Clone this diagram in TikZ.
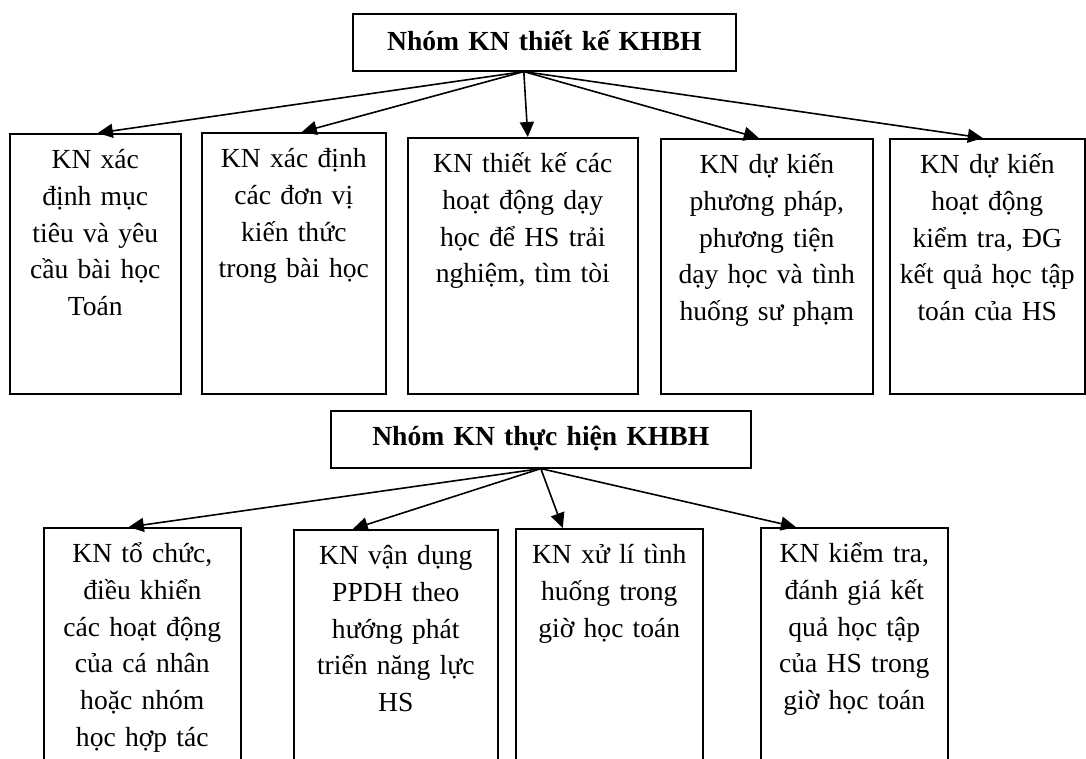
\documentclass[tikz,border=0pt]{standalone}
\usepackage{fontspec}
\setmainfont{Liberation Serif}
\usepackage{tikz}
\usetikzlibrary{arrows.meta}
\colorlet{skillFrame}{black}

\begin{document}
\begin{tikzpicture}[
  x=0.5pt, y=-0.5pt,
  skill/.style 2 args={draw=skillFrame, line width=0.8pt, anchor=north west,
    align=center, inner sep=0pt, text width=#1, text height=17.5pt, text depth=#2,
    font=\fontsize{13.8}{18.35}\selectfont},
  heading/.style={font=\fontsize{13.8}{18.35}\selectfont\bfseries},
  flow/.style={-{Triangle[length=7.5pt,width=7pt]}, line width=0.8pt, draw=skillFrame}
]
\useasboundingbox (0,0) rectangle (1086,759);
\clip (0,0) rectangle (1086,759);

% first group
\node[skill={191.5pt}{10pt}, text height=18.5pt, heading] (design) at (352,13) {Nhóm KN thiết kế KHBH};
\node[skill={85.5pt}{112.5pt}] (goal) at (9,133) {KN xác\\định mục\\tiêu và yêu\\cầu bài học\\Toán};
\node[skill={92pt}{113pt}] (unit) at (201,132) {KN xác định\\các đơn vị\\kiến thức\\trong bài học};
\node[skill={115pt}{110.5pt}] (activity) at (407,137) {KN thiết kế các\\hoạt động dạy\\học để HS trải\\nghiệm, tìm tòi};
\node[skill={106pt}{110pt}] (method) at (660,138) {KN dự kiến\\phương pháp,\\phương tiện\\dạy học và tình\\huống sư phạm};
\node[skill={97.5pt}{110pt}] (check) at (889,138) {KN dự kiến\\hoạt động\\kiểm tra, ĐG\\kết quả học tập\\toán của HS};

\draw[flow] ([xshift=-10.25pt]design.south) -- ([xshift=1.25pt]goal.north);
\draw[flow] ([xshift=-10.25pt]design.south) -- ([xshift=4pt]unit.north);
\draw[flow] ([xshift=-10.25pt]design.south) -- ([xshift=2.5pt]activity.north);
\draw[flow] ([xshift=-10.25pt]design.south) -- ([xshift=-4pt]method.north);
\draw[flow] ([xshift=-10.25pt]design.south) -- ([xshift=-2.25pt]check.north);

% second group
\node[skill={210pt}{11pt}, heading] (teach) at (330,410) {Nhóm KN thực hiện KHBH};
\node[skill={98.5pt}{109pt}] (organise) at (43,527) {KN tổ chức,\\điều khiển\\các hoạt động\\của cá nhân\\hoặc nhóm\\học hợp tác};
\node[skill={102pt}{108pt}] (apply) at (293,529) {KN vận dụng\\PPDH theo\\hướng phát\\triển năng lực\\HS};
\node[skill={93.5pt}{108.5pt}] (situation) at (515,528) {KN xử lí tình\\huống trong\\giờ học toán};
\node[skill={93.5pt}{109pt}] (assess) at (760,527) {KN kiểm tra,\\đánh giá kết\\quả học tập\\của HS trong\\giờ học toán};

\draw[flow] (teach.south) -- ([xshift=-6.75pt]organise.north);
\draw[flow] (teach.south) -- ([xshift=-21.5pt]apply.north);
\draw[flow] (teach.south) -- ([xshift=-23.25pt]situation.north);
\draw[flow] (teach.south) -- ([xshift=-29.25pt]assess.north);
\end{tikzpicture}
\end{document}
